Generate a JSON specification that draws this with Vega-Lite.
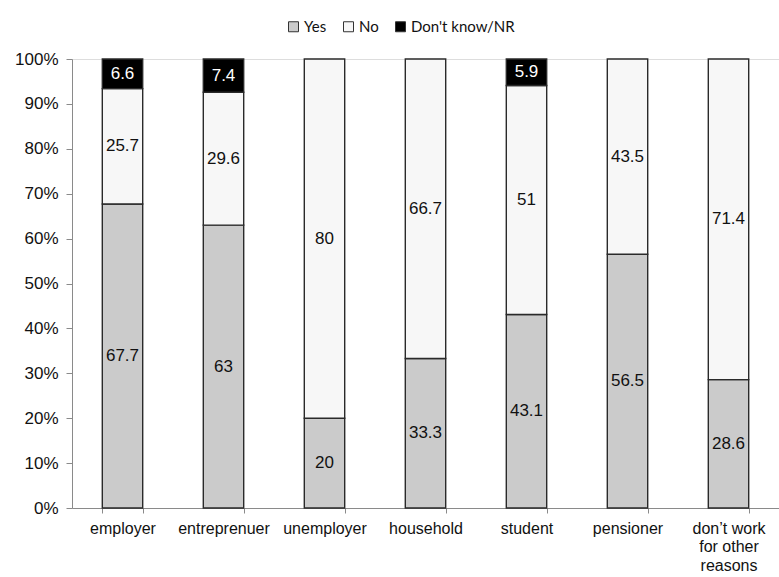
{
  "$schema": "https://vega.github.io/schema/vega-lite/v6.json",
  "autosize": "none",
  "width": 707,
  "height": 449,
  "padding": {"left": 72, "top": 59, "right": 0, "bottom": 69},
  "background": "white",
  "data": {
    "values": [
      {"group": "employer", "answer": "Yes", "value": 67.7},
      {"group": "employer", "answer": "No", "value": 25.7},
      {"group": "employer", "answer": "Don't know/NR", "value": 6.6},
      {"group": "entreprenuer", "answer": "Yes", "value": 63},
      {"group": "entreprenuer", "answer": "No", "value": 29.6},
      {"group": "entreprenuer", "answer": "Don't know/NR", "value": 7.4},
      {"group": "unemployer", "answer": "Yes", "value": 20},
      {"group": "unemployer", "answer": "No", "value": 80},
      {"group": "household", "answer": "Yes", "value": 33.3},
      {"group": "household", "answer": "No", "value": 66.7},
      {"group": "student", "answer": "Yes", "value": 43.1},
      {"group": "student", "answer": "No", "value": 51},
      {"group": "student", "answer": "Don't know/NR", "value": 5.9},
      {"group": "pensioner", "answer": "Yes", "value": 56.5},
      {"group": "pensioner", "answer": "No", "value": 43.5},
      {"group": "don’t work for other reasons", "answer": "Yes", "value": 28.6},
      {"group": "don’t work for other reasons", "answer": "No", "value": 71.4}
    ]
  },
  "encoding": {
    "x": {
      "field": "group",
      "type": "nominal",
      "sort": null,
      "scale": {"paddingInner": 0.6, "paddingOuter": 0.3},
      "axis": {
        "title": null,
        "labelAngle": 0,
        "labelFont": "Liberation Sans",
        "labelFontSize": 16,
        "labelColor": "#111",
        "labelPadding": 7,
        "labelLineHeight": 18.5,
        "labelExpr": "datum.label == 'don’t work for other reasons' ? ['don’t work', 'for other', 'reasons'] : datum.label",
        "domainColor": "#8a8a8a",
        "tickColor": "#8a8a8a",
        "tickSize": 5,
        "tickBand": "extent",
        "grid": false
      }
    },
    "order": {"field": "answer", "sort": "descending"},
    "detail": {"field": "answer", "type": "nominal"}
  },
  "layer": [
    {
      "mark": {"type": "bar", "stroke": "#2a2a2a", "strokeWidth": 1.4},
      "encoding": {
        "y": {
          "field": "value",
          "type": "quantitative",
          "stack": "zero",
          "scale": {"domain": [0, 100], "nice": false},
          "axis": {
            "title": null,
            "values": [0, 10, 20, 30, 40, 50, 60, 70, 80, 90, 100],
            "labelExpr": "datum.value + '%'",
            "labelFont": "Liberation Sans",
            "labelFontSize": 17,
            "labelColor": "#111",
            "labelPadding": 8,
            "domainColor": "#8a8a8a",
            "tickColor": "#8a8a8a",
            "tickSize": 6,
            "grid": false
          }
        },
        "color": {
          "field": "answer",
          "type": "nominal",
          "sort": ["Yes", "No", "Don't know/NR"],
          "scale": {
            "domain": ["Yes", "No", "Don't know/NR"],
            "range": ["#cbcbcb", "#f7f7f7", "#000000"]
          },
          "legend": {
            "title": null,
            "orient": "none",
            "direction": "horizontal",
            "legendX": 214,
            "legendY": -40,
            "symbolType": "square",
            "symbolSize": 100,
            "symbolStrokeColor": "#333333",
            "symbolStrokeWidth": 1,
            "labelFont": "Lato",
            "labelFontSize": 15,
            "labelColor": "#111",
            "labelOffset": 3,
            "columnPadding": 14
          }
        }
      }
    },
    {
      "mark": {"type": "text", "font": "Liberation Sans", "fontSize": 17, "baseline": "middle", "align": "center"},
      "encoding": {
        "y": {
          "field": "value",
          "type": "quantitative",
          "stack": "zero",
          "bandPosition": 0.5
        },
        "text": {"field": "value", "type": "quantitative"},
        "color": {
          "condition": {"test": "datum.answer == \"Don't know/NR\"", "value": "white"},
          "value": "#111111"
        }
      }
    }
  ]
}
